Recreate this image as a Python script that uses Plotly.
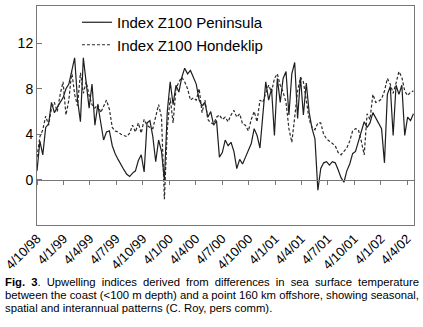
import pandas as pd
import plotly.graph_objects as go

# ---- data (10-day steps starting 4 Oct 1998) ----
start_date = "1998-10-04"
peninsula = [
    0.8, 3.4, 2.2, 4.6, 4.9, 6.8, 5.9, 6.4, 6.8, 7.2,
    8.0, 8.4, 9.5, 10.7, 7.0, 5.1, 10.7, 8.5, 6.3, 8.4,
    4.8, 6.6, 5.2, 3.5, 4.2, 4.3, 3.0, 2.3, 1.8, 1.3,
    0.9, 0.5, 0.3, 0.6, 0.8, 1.7, 2.2, 0.7, 5.0, 5.2,
    3.8, 1.6, 3.5, 2.5, 0.0, 6.0, 8.6, 6.6, 8.3, 7.7,
    9.0, 9.8, 9.3, 9.6, 9.0, 8.4, 7.0, 6.5, 6.8, 5.5,
    6.0, 4.8, 5.2, 2.0, 2.4, 3.5, 3.0, 3.3, 2.5, 1.0,
    1.8, 1.4, 2.0, 2.6, 3.2, 4.5, 3.9, 2.8, 6.0, 8.6,
    7.0, 8.0, 3.9, 8.9, 6.8, 8.9, 9.5, 5.7, 9.3, 10.3,
    5.4, 9.0, 5.7, 8.5, 5.9, 4.5, 3.6, -0.9, 1.0, 1.5,
    1.6, 1.3, 1.6, 1.5, 0.9, 0.2, -0.2, 0.8, 1.4, 2.3,
    2.5, 3.3, 4.2, 5.1, 4.6, 5.0, 5.9, 5.4, 5.0, 4.5,
    1.5, 7.5, 8.2, 3.9, 8.3, 7.5, 8.3, 3.9, 5.5, 5.2,
    5.8,
]
hondeklip = [
    2.0, 3.8, 4.4, 5.6, 4.8, 6.3, 6.8, 6.0, 7.5, 8.6,
    5.7, 7.0, 9.5, 7.5, 6.5, 9.4, 7.6, 8.6, 7.4, 6.6,
    6.3, 6.6, 5.9, 6.5, 7.0, 6.2, 4.6, 4.3, 4.2, 4.0,
    3.9, 3.8, 4.1, 4.8, 4.2, 5.0, 4.1, 5.3, 4.8, 4.6,
    4.5, 5.5, 6.6, 5.5, -1.7, 4.5, 7.2, 5.0, 8.0, 8.6,
    9.0, 8.6, 8.0, 7.0, 7.2, 7.0, 8.0, 5.9, 7.0, 5.3,
    5.0, 4.9, 5.5, 5.7, 5.3, 5.5, 5.1, 5.7, 6.1, 5.5,
    5.8, 4.9, 4.8, 4.3, 5.3, 6.0, 5.1, 7.0, 6.8, 7.6,
    8.3, 7.7, 8.9, 9.3, 8.3, 7.7, 6.8, 4.5, 3.3, 5.5,
    7.8, 9.0, 8.6, 7.0, 5.3, 4.6, 4.4, 5.0, 5.0, 4.0,
    3.6, 3.4, 3.2, 3.0, 2.4, 2.2, 2.5, 2.8, 3.4, 4.3,
    4.5, 4.4, 3.4, 2.2, 5.8, 5.3, 7.5, 6.8, 6.9, 7.1,
    7.8, 8.9, 8.4, 7.6, 8.5, 9.5, 9.0, 7.8, 7.4, 7.7,
    7.8,
]
tick_dates = [
    "1998-10-04", "1999-01-04", "1999-04-04", "1999-07-04", "1999-10-04",
    "2000-01-04", "2000-04-04", "2000-07-04", "2000-10-04", "2001-01-04",
    "2001-04-04", "2001-07-04", "2001-10-04", "2002-01-04", "2002-04-04",
]
tick_labels = [
    "4/10/98", "4/1/99", "4/4/99", "4/7/99", "4/10/99", "4/1/00", "4/4/00",
    "4/7/00", "4/10/00", "4/1/01", "4/4/01", "4/7/01", "4/10/01", "4/1/02", "4/4/02",
]
y_ticks = [0, 4, 8, 12]
caption_lines = [
    "<b>Fig. 3</b>. Upwelling indices derived from differences in sea surface temperature",
    "between the coast (<100 m depth) and a point 160 km offshore, showing seasonal,",
    "spatial and interannual patterns (C. Roy, pers comm).",
]

dates = pd.date_range(start_date, periods=len(peninsula), freq="10D")

x_range = ["1998-10-04", "2002-04-28"]
y_range = [-3.95, 15.25]
zero_pos = (0 - y_range[0]) / (y_range[1] - y_range[0])

FONT = "Liberation Sans, Arial, sans-serif"

fig = go.Figure()
fig.add_trace(go.Scatter(
    x=dates, y=peninsula, mode="lines", name="Index Z100 Peninsula",
    line=dict(color="#1e1e1e", width=1.2),
))
fig.add_trace(go.Scatter(
    x=dates, y=hondeklip, mode="lines", name="Index Z100 Hondeklip",
    xaxis="x2",
    line=dict(color="#2a2a2a", width=1.2, dash="3px,2px"),
))

fig.update_layout(
    width=423, height=327,
    margin=dict(l=37, r=9, t=6, b=102, autoexpand=False),
    paper_bgcolor="white", plot_bgcolor="white",
    font=dict(family=FONT, color="black"),
    showlegend=True,
    legend=dict(
        x=0.106, y=1.0, xanchor="left", yanchor="top",
        bgcolor="rgba(0,0,0,0)", font=dict(size=15, family=FONT),
        tracegroupgap=0,
    ),
    xaxis=dict(
        type="date", range=x_range, automargin=False,
        tickvals=tick_dates, ticktext=tick_labels, tickangle=-45,
        ticks="", showgrid=False, zeroline=False,
        showline=True, mirror=True, linecolor="#777", linewidth=1,
        tickfont=dict(size=13, family=FONT),
    ),
    xaxis2=dict(
        type="date", overlaying="x", matches="x", anchor="free",
        position=zero_pos, side="bottom", automargin=False,
        tickvals=tick_dates, showticklabels=False,
        ticks="outside", ticklen=4, tickcolor="#777", tickwidth=1,
        showline=True, linecolor="#777", linewidth=1.3, showgrid=False,
        zeroline=False,
    ),
    yaxis=dict(
        range=y_range, tickvals=y_ticks, ticks="inside", ticklen=5,
        automargin=False,
        tickcolor="#777", showgrid=False, zeroline=False,
        showline=True, mirror=True, linecolor="#777", linewidth=1,
        tickfont=dict(size=14, family=FONT),
    ),
)

caption_y = [-0.258, -0.318, -0.377]
for txt, yy in zip(caption_lines, caption_y):
    fig.add_annotation(
        text=txt, xref="paper", yref="paper", x=-0.0905, y=yy,
        xanchor="left", yanchor="middle", showarrow=False,
        font=dict(size=11.3, family=FONT, color="black"), align="left",
    )

# remove default page margin and justify the first two caption lines
post_js = """
document.body.style.margin = '0';
(function(){
  var gd = document.getElementById('{plot_id}');
  var target = 414;
  [0, 1].forEach(function(i){
    var t = gd.querySelector('g.annotation[data-index="' + i + '"] text.annotation-text');
    if (!t) return;
    var len = t.getComputedTextLength();
    var n = (t.textContent.match(/ /g) || []).length;
    if (n > 0) {
      t.style.wordSpacing = ((target - len) / n) + 'px';
    }
  });
})();
"""

fig.write_html("out.html", post_script=post_js,
               config={"displayModeBar": False, "staticPlot": True})
